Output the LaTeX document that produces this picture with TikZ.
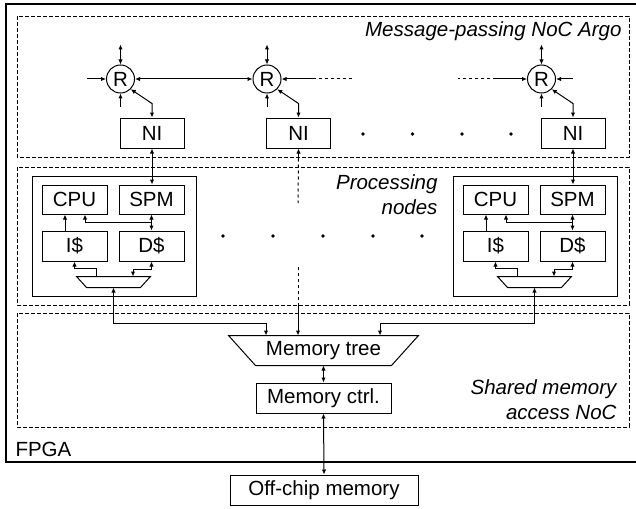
\documentclass[tikz,border=0pt]{standalone}
\usepackage{fontspec}
\setmainfont{Liberation Sans}
\usetikzlibrary{arrows.meta,calc}

\tikzset{
  box/.style={draw, line width=1pt, inner sep=0pt, minimum width=65, minimum height=29},
  pnbox/.style={draw, line width=1pt, inner sep=0pt, minimum width=164, minimum height=120},
  nibox/.style={box, minimum width=64, minimum height=30},
  router/.style={draw, circle, line width=1pt, inner sep=0pt, minimum size=28},
  muxbox/.style={inner sep=0pt, minimum width=73, minimum height=10},
  region/.style={draw, line width=0.8pt, dash pattern=on 4pt off 2pt},
  regionlabel/.style={font=\fontsize{20.5}{25}\selectfont\itshape, align=right, inner sep=0pt},
}

\begin{document}
\begin{tikzpicture}[x=1pt,y=-1pt,line width=1pt,>={Latex[length=5pt,width=4.5pt]},
  font=\fontsize{20.5}{25}\selectfont]
 % fix the page size
 \useasboundingbox (0,0) rectangle (636,508);

 % draw the FPGA and the three regions
 \draw[line width=2.4pt] (637,4) -| (6,462) -- (637,462);
 \draw[region] (17,16) rectangle (629,157);
 \draw[region] (17,167) rectangle (629,305);
 \draw[region] (17,313) rectangle (629,427);
 \node[anchor=west, inner sep=0pt] (fpga) at (15,449) {FPGA};
 \node[regionlabel, anchor=base east] (noclabel) at (622,37) {Message-passing NoC Argo};
 \node[regionlabel, anchor=east] (pnlabel) at (438,195) {Processing\\nodes};
 \node[regionlabel, anchor=east] (memlabel) at (617,400) {Shared memory\\access NoC};

 % routers and network interfaces
 \foreach \n/\x in {1/120.5, 2/267, 3/541.5} {
         \node[router] (r\n) at (\x,79) {R};
         \node[nibox] (ni\n) at (\x+31.5,133) {NI};
         % ports up and down
         \draw[<->] (r\n.north) -- ++(0,-20);
         \draw[<-] (r\n.south) -- ++(0,13);
         % link to the network interface
         \draw[<->] (ni\n.north) -- ++(0,-14) -- (r\n.-45);
 }

 % links between the routers
 \draw[<->] (r1) -- (r2);
 \draw[<-] (r1.west) -- ++(-19,0);
 \draw[<-] (r2.east) -- ++(31,0) coordinate (r2e);
 \draw[dashed] (r2e) -- ++(41,0);
 \draw[<-] (r3.west) -- ++(-31,0) coordinate (r3w);
 \draw[dashed] (r3w) -- ++(-38,0);
 \draw[<-] (r3.east) -- ++(17,0);

 % dots between the network interfaces
 \foreach \x in {363,412.5,462,511}
         \fill (\x,134) circle (1.8);

 % the processing nodes
 \foreach \s/\o in {a/0,b/421} {
         \node[pnbox] (pn\s) at (114+\o,236) {};
         \node[box] (cpu\s) at (74.5+\o,199.5) {CPU};
         \node[box] (spm\s) at (151.5+\o,199.5) {SPM};
         \node[box, minimum height=30] (ic\s) at (74.5+\o,246) {I\$};
         \node[box, minimum height=30] (dc\s) at (151.5+\o,246) {D\$};
         \node[muxbox] (mux\s) at (113.5+\o,282) {};
         % the mux shape
         \draw (mux\s.north west) -- (mux\s.north east)
               -- ([xshift=-10pt]mux\s.south east) -- ([xshift=10pt]mux\s.south west) -- cycle;
         % connections inside the node
         \draw[->] ([xshift=-9.5pt]ic\s.north) -- ([xshift=-9.5pt]cpu\s.south);
         \draw[<->] (spm\s.south) -- (dc\s.north);
         \draw[->] ($(spm\s.south)!0.5!(dc\s.north)$) -| ([xshift=10.5pt]cpu\s.south);
         \draw[->] ([xshift=-17.5pt]mux\s.north) -- ++(0,-8) -| (ic\s.south);
         \draw[<->] (dc\s.south) -- ++(0,8) -| ([xshift=19.5pt]mux\s.north);
 }

 % dots between the processing nodes
 \foreach \x in {223,273,323,373,422}
         \fill (\x,236) circle (1.8);

 % network interfaces to the scratchpads
 \draw[<->] (ni1.south) -- (ni1.south |- spma.north);
 \draw[<->] (ni3.south) -- (ni3.south |- spmb.north);

 % memory tree, controller and off-chip memory
 \node[inner sep=0pt, minimum width=189, minimum height=29] (mtree) at (323.5,350.5) {Memory tree};
 \draw (mtree.north west) -- (mtree.north east)
       -- ([xshift=-27pt]mtree.south east) -- ([xshift=27pt]mtree.south west) -- cycle;
 \node[box, minimum width=135, minimum height=30] (mctrl) at (323.5,398) {Memory ctrl.};
 \node[box, minimum width=188, minimum height=30] (offchip) at (324,490) {Off-chip memory};
 \draw[<->] (mtree.south) -- (mctrl.north);
 \draw[<->] (mctrl.south) -- (offchip.north);

 % the processing nodes to the memory tree
 \coordinate (bus) at (0,323);
 \draw[<->] (muxa.south) -- (muxa.south |- bus) -| ([xshift=-57.5pt]mtree.north);
 \draw[<->] (muxb.south) -- (muxb.south |- bus) -| ([xshift=56.5pt]mtree.north);

 % the middle network interface, with gaps
 \coordinate (gaptop) at (298,203);
 \coordinate (gapbot) at (298,267);
 \draw[<-] (ni2.south) -- ++(0,10) coordinate (ni2d);
 \draw[dashed] (ni2d) -- (gaptop);
 \draw[dashed] (gapbot) -- ++(0,38) coordinate (gapend);
 \draw[->] (gapend) -- (gapend |- mtree.north);
\end{tikzpicture}
\end{document}
